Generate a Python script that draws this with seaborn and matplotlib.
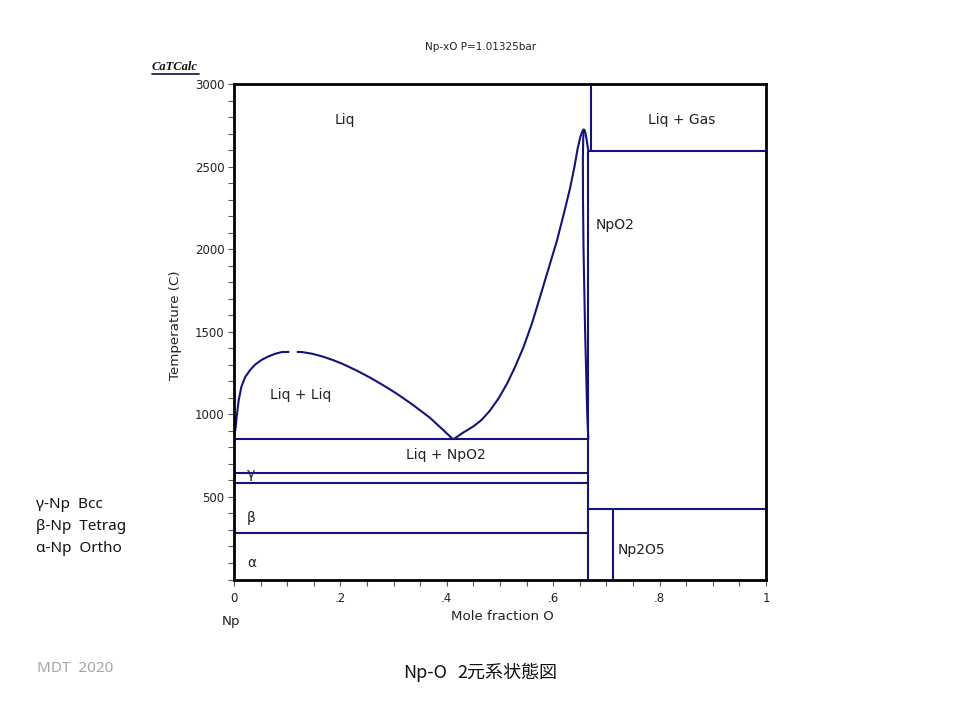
import matplotlib
matplotlib.use("Agg")
import matplotlib.pyplot as plt
from matplotlib.lines import Line2D
from matplotlib.ticker import MultipleLocator, FixedLocator, FixedFormatter
import seaborn as sns
import pandas as pd

# ---------------- data ----------------
# miscibility gap (Liq + Liq), drawn in two pieces with a small break at the top
dome_a_x = [0.0, 0.0025, 0.005, 0.0088, 0.0137, 0.021, 0.0307, 0.040, 0.0526,
            0.065, 0.0777, 0.090, 0.104]
dome_a_T = [880, 903, 984, 1085, 1165, 1226, 1270, 1302, 1331,
            1351, 1367, 1377, 1378]
dome_b_x = [0.118, 0.128, 0.1466, 0.1654, 0.184, 0.203, 0.230, 0.256, 0.280,
            0.306, 0.336, 0.368, 0.390, 0.412]
dome_b_T = [1378, 1377, 1367, 1351, 1331, 1307, 1266, 1222, 1177,
            1125, 1058, 980, 915, 848]

# liquidus from monotectic to the NpO2 congruent maximum
liq_x = [0.412, 0.431, 0.450, 0.465, 0.481, 0.497, 0.513, 0.528, 0.544, 0.560,
         0.575, 0.591, 0.607, 0.620, 0.632, 0.640, 0.646, 0.651, 0.655, 0.658]
liq_T = [848, 890, 927, 965, 1022, 1095, 1184, 1285, 1405, 1550,
         1708, 1880, 2051, 2215, 2373, 2500, 2610, 2680, 2715, 2728]

# NpO2-x solidus (left branch falling from the maximum)
sol_x = [0.658, 0.6565, 0.6558, 0.656, 0.657, 0.6585, 0.660, 0.662, 0.664, 0.666]
sol_T = [2728, 2680, 2550, 2300, 2000, 1750, 1500, 1250, 1000, 848]

# right branch from the maximum to the Liq+Gas boundary
rb_x = [0.658, 0.6605, 0.663, 0.666]
rb_T = [2728, 2705, 2660, 2595]

# compositions of the vertical boundaries
x_npo2 = 0.666
x_gas = 0.671
x_np2o5 = 0.712

# invariant temperatures
T_left = [848, 645, 584, 282]      # monotectic, gamma, beta/gamma, alpha/beta
T_gas = 2595
T_np2o5 = 425

x_ticks = [0, 0.2, 0.4, 0.6, 0.8, 1.0]
x_tick_labels = ["0", ".2", ".4", ".6", ".8", "1"]
y_ticks = [500, 1000, 1500, 2000, 2500, 3000]
y_tick_labels = ["500", "1000", "1500", "2000", "2500", "3000"]

region_labels = ["Liq", "Liq + Gas", "Liq + Liq", "Liq + NpO2", "γ", "β", "α"]
region_x = [0.209, 0.842, 0.126, 0.398, 0.031, 0.033, 0.033]
region_T = [2785, 2785, 1115, 752, 640, 375, 100]

left_labels = ["NpO2", "Np2O5"]
left_x = [0.680, 0.722]
left_T = [2149, 177]

legend_lines = ["γ-Np  Bcc", "β-Np  Tetrag", "α-Np  Ortho"]

# ---------------- figure ----------------
sns.set_style("white")
plt.rcParams["font.family"] = ["DejaVu Sans", "Noto Sans CJK JP"]

fig = plt.figure(figsize=(9.6, 7.2), dpi=100)
ax = fig.add_axes([234 / 960, 1 - 579.5 / 720, 532 / 960, 495.5 / 720])

navy = "#14147a"
lw = 1.5


def seg(xs, ys):
    df = pd.DataFrame({"x": xs, "T": ys})
    sns.lineplot(data=df, x="x", y="T", ax=ax, color=navy, lw=lw,
                 sort=False, estimator=None, solid_capstyle="butt",
                 solid_joinstyle="round")


seg(dome_a_x, dome_a_T)
seg(dome_b_x, dome_b_T)
seg(liq_x, liq_T)
seg(sol_x, sol_T)
seg(rb_x, rb_T)

for T in T_left:
    seg([0.0, x_npo2], [T, T])
seg([x_npo2, 1.0], [T_gas, T_gas])
seg([x_npo2, 1.0], [T_np2o5, T_np2o5])
seg([x_npo2, x_npo2], [0, T_gas])
seg([x_gas, x_gas], [T_gas, 3000])
seg([x_np2o5, x_np2o5], [0, T_np2o5])

ax.set_xlim(0, 1)
ax.set_ylim(0, 3000)
ax.xaxis.set_major_locator(FixedLocator(x_ticks))
ax.xaxis.set_major_formatter(FixedFormatter(x_tick_labels))
ax.xaxis.set_minor_locator(MultipleLocator(0.05))
ax.yaxis.set_major_locator(FixedLocator(y_ticks))
ax.yaxis.set_major_formatter(FixedFormatter(y_tick_labels))
ax.yaxis.set_minor_locator(MultipleLocator(100))
ax.tick_params(which="both", direction="out", length=4, width=0.8,
               color="#555555", labelsize=8.5, labelcolor="#222222", pad=3,
               left=True, bottom=True, right=False, top=False)
ax.tick_params(axis="x", which="major", pad=5)
ax.set_xlabel("")
ax.set_ylabel("")
for s in ax.spines.values():
    s.set_color("black")
    s.set_linewidth(2.0)

for lab, x, T in zip(region_labels, region_x, region_T):
    ax.text(x, T, lab, ha="center", va="center", fontsize=10, color="#222222")
for lab, x, T in zip(left_labels, left_x, left_T):
    ax.text(x, T, lab, ha="left", va="center", fontsize=10, color="#222222")

# axis titles and annotations
fig.text(175 / 960, 1 - 325 / 720, "Temperature (C)", rotation=90, ha="center",
         va="center", fontsize=9.6, color="#222222")
fig.text(502 / 960, 1 - 617 / 720, "Mole fraction O", ha="center", va="center",
         fontsize=9.6, color="#222222")
fig.text(231 / 960, 1 - 621 / 720, "Np", ha="center", va="center",
         fontsize=9.6, color="#222222")
fig.text(481 / 960, 1 - 47 / 720, "Np-xO P=1.01325bar", ha="center", va="center",
         fontsize=7.5, color="#222222")
fig.text(175 / 960, 1 - 67 / 720, "CaTCalc", ha="center", va="center",
         fontsize=9, fontweight="bold", fontstyle="italic",
         family="Liberation Serif", color="#111111")
fig.add_artist(Line2D([152 / 960, 199 / 960], [1 - 74 / 720, 1 - 74 / 720],
                      color="#111144", lw=1.2))

for i, t in enumerate(legend_lines):
    fig.text(36 / 960, 1 - (505 + 22 * i) / 720, t, ha="left", va="center",
             fontsize=11, family=["Noto Sans", "DejaVu Sans"], color="#111111")

fig.text(37 / 960, 1 - 669 / 720, "MDT  2020", ha="left", va="center",
         fontsize=11, family=["Noto Sans", "DejaVu Sans"], color="#a6a6a6")
fig.text(447 / 960, 1 - 673 / 720, "Np-O", ha="right", va="center",
         fontsize=13, family=["Noto Sans CJK JP", "DejaVu Sans"], color="#111111")
fig.text(457 / 960, 1 - 673 / 720, "2元系状態図", ha="left", va="center",
         fontsize=13, family=["Noto Sans CJK JP", "DejaVu Sans"], color="#111111")

fig.savefig("out.png", dpi=100, facecolor="white")
